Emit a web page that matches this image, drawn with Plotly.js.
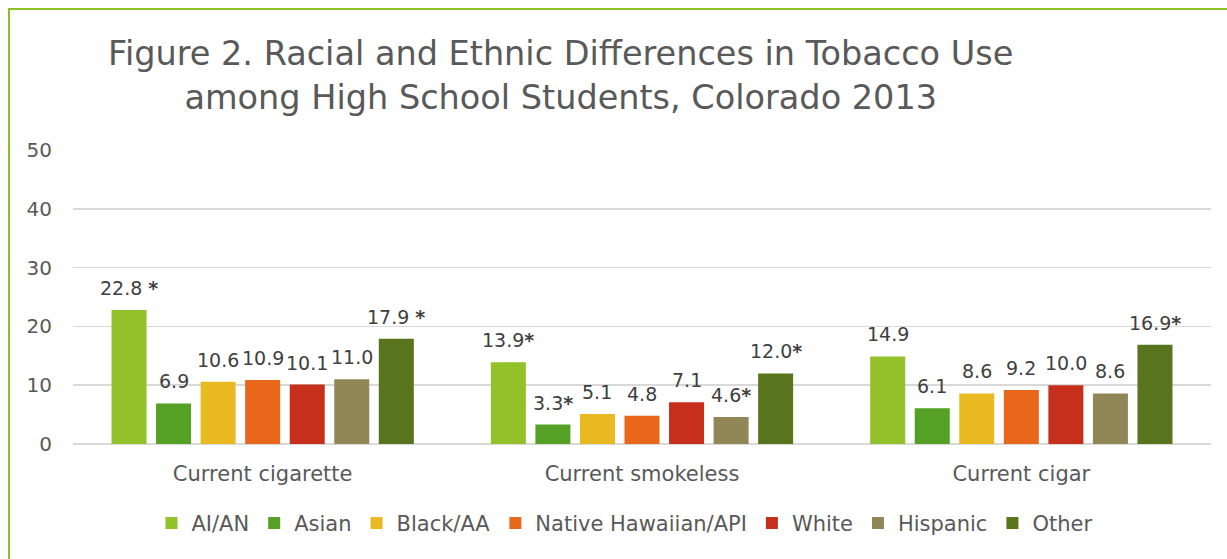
<!DOCTYPE html>
<html>
<head>
<meta charset="utf-8">
<script src="https://cdn.plot.ly/plotly-3.0.1.min.js"></script>
<style>
  html, body { margin: 0; padding: 0; background: #ffffff; overflow: hidden; }
  #chart { width: 1227px; height: 559px; }
  #frame {
    position: absolute; left: 8px; top: 8px; width: 1400px; height: 800px;
    border-left: 2px solid #8CC027; border-top: 2px solid #8CC027;
    pointer-events: none;
  }
</style>
</head>
<body>
<div id="chart"></div>
<div id="frame"></div>
<script>
// Tobacco use measures (x categories)
const categories = ["Current cigarette", "Current smokeless", "Current cigar"];

// Percent of high school students, by race/ethnicity
const aian     = [22.8, 13.9, 14.9];
const asian    = [6.9, 3.3, 6.1];
const blackAA  = [10.6, 5.1, 8.6];
const nhapi    = [10.9, 4.8, 9.2];
const white    = [10.1, 7.1, 10.0];
const hispanic = [11.0, 4.6, 8.6];
const other    = [17.9, 12.0, 16.9];

// Statistically significant differences (marked with an asterisk)
const aianSig     = [true, true, false];
const asianSig    = [false, true, false];
const blackAASig  = [false, false, false];
const nhapiSig    = [false, false, false];
const whiteSig    = [false, false, false];
const hispanicSig = [false, true, false];
const otherSig    = [true, true, true];

const seriesNames = ["AI/AN", "Asian", "Black/AA", "Native Hawaiian/API", "White", "Hispanic", "Other"];
const seriesValues = [aian, asian, blackAA, nhapi, white, hispanic, other];
const seriesSig = [aianSig, asianSig, blackAASig, nhapiSig, whiteSig, hispanicSig, otherSig];
const seriesColors = ["#92C12A", "#55A125", "#E8B920", "#E8671B", "#C52F1C", "#918756", "#58741D"];

const BAR_GAP = 0.178;
const BAR_GROUP_GAP = 0.214;

function labelFor(v, sig, j) {
  if (!sig) return v.toFixed(1);
  // the cigarette group sets its asterisk slightly apart
  return v.toFixed(1) + (j === 0 ? " " : "") + "<b>*</b>";
}

const traces = seriesNames.map((name, i) => ({
  type: "bar",
  name: name,
  x: categories,
  y: seriesValues[i],
  marker: { color: seriesColors[i], line: { width: 0 } },
  hoverinfo: "skip"
}));

// Value labels placed above each bar of a grouped category
const nSeries = seriesNames.length;
const slot = (1 - BAR_GAP) / nSeries;
const annotations = [];
seriesValues.forEach((vals, i) => {
  vals.forEach((v, j) => {
    annotations.push({
      xref: "x", yref: "y",
      x: j + (i - (nSeries - 1) / 2) * slot,
      y: v,
      text: labelFor(v, seriesSig[i][j], j),
      showarrow: false,
      xanchor: "center", yanchor: "bottom",
      yshift: 9,
      font: { family: "DejaVu Sans", size: 19, color: "#404040" }
    });
  });
});

const layout = {
  width: 1227,
  height: 559,
  paper_bgcolor: "#ffffff",
  plot_bgcolor: "#ffffff",
  margin: { l: 73, r: 16, t: 150, b: 115 },
  font: { family: "DejaVu Sans", color: "#595959" },
  title: {
    text: "Figure 2. Racial and Ethnic Differences in Tobacco Use<br>among High School Students, Colorado 2013",
    font: { family: "DejaVu Sans", size: 33.5, color: "#595959" },
    xref: "container", x: 0.457, xanchor: "center",
    yref: "container", y: 0.883, yanchor: "top"
  },
  barmode: "group",
  bargap: BAR_GAP,
  bargroupgap: BAR_GROUP_GAP,
  xaxis: {
    type: "category",
    showgrid: false,
    showline: false,
    ticks: "",
    tickfont: { family: "DejaVu Sans", size: 21, color: "#595959" },
    ticklabelstandoff: 15
  },
  yaxis: {
    range: [0, 50],
    dtick: 10,
    showgrid: true,
    gridcolor: "#D9D9D9",
    gridwidth: 1.5,
    zeroline: true,
    zerolinecolor: "#D9D9D9",
    zerolinewidth: 1.5,
    showline: false,
    ticks: "",
    tickfont: { family: "DejaVu Sans", size: 20, color: "#595959" },
    ticklabelstandoff: 20
  },
  annotations: annotations,
  showlegend: true,
  legend: {
    orientation: "h",
    x: 0.4846, xanchor: "center",
    y: -0.27, yanchor: "middle",
    font: { family: "DejaVu Sans", size: 21, color: "#595959" },
    itemwidth: 30,
    traceorder: "normal"
  }
};

Plotly.newPlot("chart", traces, layout, { displayModeBar: false, staticPlot: true });
</script>
</body>
</html>
